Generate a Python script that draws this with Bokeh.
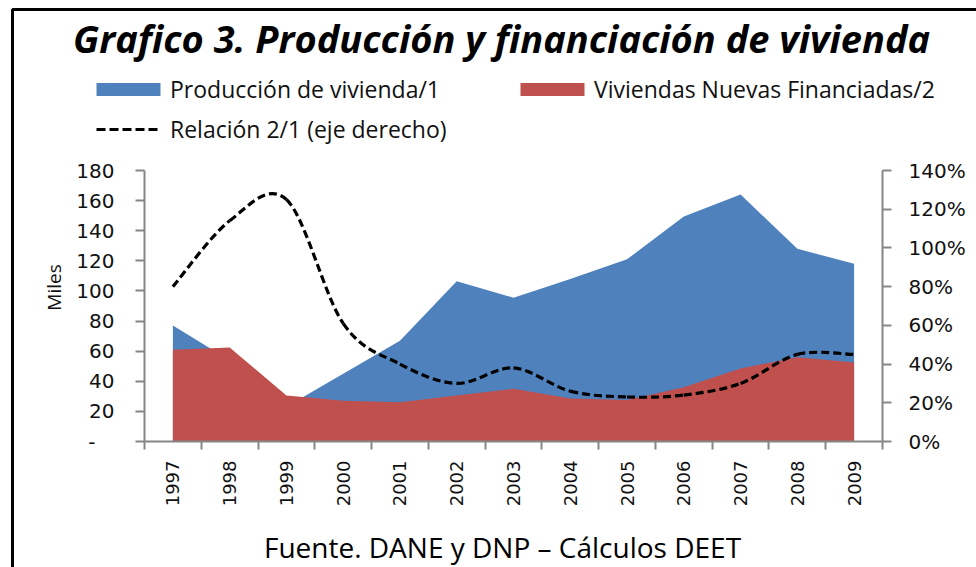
import numpy as np
from bokeh.plotting import figure
from bokeh.models import (Range1d, LinearAxis, FixedTicker, Label, Legend, LegendItem,
                          PrintfTickFormatter, BoxAnnotation)
from bokeh.embed import file_html
from bokeh.resources import INLINE

# ---------------- data ----------------
years = [1997, 1998, 1999, 2000, 2001, 2002, 2003, 2004, 2005, 2006, 2007, 2008, 2009]
produccion = [77, 54, 23, 45, 67, 106.5, 95.5, 108, 121, 149.5, 164, 128, 118]      # miles
financiadas = [61, 62.5, 30.5, 27, 26, 30.5, 35, 28.5, 27.5, 36, 48.5, 56, 52.5]    # miles
relacion = [80, 114, 125, 61, 40, 30, 38, 26, 23, 24, 30, 45, 45]                   # % (eje derecho)
left_ticks = [0, 20, 40, 60, 80, 100, 120, 140, 160, 180]
right_ticks = [0, 20, 40, 60, 80, 100, 120, 140]
title_text = "Grafico 3. Producción y financiación de vivienda"
footer_text = "Fuente. DANE y DNP \u2013 Cálculos DEET"
label_prod = "Producción de vivienda/1"
label_fin = "Viviendas Nuevas Financiadas/2"
label_rel = "Relación 2/1 (eje derecho)"
y_axis_title = "Miles"

BLUE = "#4F81BD"
RED = "#C0504D"
GRAY = "#868686"
TXT = "#111111"

# ---------------- layout (pixels) ----------------
W, H = 976, 567
PX_LEFT, PX_RIGHT = 144, 882      # plot area left/right
PX_BOTTOM, PX_TOP = 441, 170      # plot area bottom/top
X_LO, X_HI = years[0] - 0.5, years[-1] + 0.5
Y_MAX = left_ticks[-1]
P_MAX = right_ticks[-1]

xu = (X_HI - X_LO) / (PX_RIGHT - PX_LEFT)
yu = Y_MAX / (PX_BOTTOM - PX_TOP)
pu = P_MAX / (PX_BOTTOM - PX_TOP)


def px_x(px):
    return X_LO + (px - PX_LEFT) * xu


def px_y(py):
    return (PX_BOTTOM - py) * yu


p = figure(width=W, height=H, output_backend="svg", toolbar_location=None,
           x_range=Range1d(px_x(0), px_x(W)),
           y_range=Range1d(px_y(H), px_y(0)),
           min_border_left=0, min_border_right=0, min_border_top=0, min_border_bottom=0)
p.extra_y_ranges = {"pct": Range1d((PX_BOTTOM - H) * pu, PX_BOTTOM * pu)}
p.outline_line_color = None
p.xgrid.visible = False
p.ygrid.visible = False
p.background_fill_color = "white"
p.border_fill_color = "white"

# areas
r_blue = p.varea(x=years, y1=0, y2=produccion, fill_color=BLUE)
r_red = p.varea(x=years, y1=0, y2=financiadas, fill_color=RED)

# smoothed ratio line (Catmull-Rom -> Bezier control points)
xs = np.array(years, dtype=float)
ys = np.array(relacion, dtype=float)
n = len(xs)
x0, y0, x1, y1, cx0, cy0, cx1, cy1 = [], [], [], [], [], [], [], []
for i in range(n - 1):
    im1 = max(i - 1, 0)
    ip2 = min(i + 2, n - 1)
    x0.append(xs[i]); y0.append(ys[i]); x1.append(xs[i + 1]); y1.append(ys[i + 1])
    cx0.append(xs[i] + (xs[i + 1] - xs[im1]) / 6.0)
    cy0.append(ys[i] + (ys[i + 1] - ys[im1]) / 6.0)
    cx1.append(xs[i + 1] - (xs[ip2] - xs[i]) / 6.0)
    cy1.append(ys[i + 1] - (ys[ip2] - ys[i]) / 6.0)
p.bezier(x0=x0, y0=y0, x1=x1, y1=y1, cx0=cx0, cy0=cy0, cx1=cx1, cy1=cy1,
         line_color="black", line_width=3.2, line_dash="8 4", y_range_name="pct")
# one-point line: invisible in the plot, used for the legend swatch
r_line_leg = p.line(x=years[:1], y=relacion[:1], line_color="black", line_width=3,
                    line_dash="9 4", y_range_name="pct")

# x axis: labels at category centres, ticks at category boundaries
xa = p.xaxis[0]
xa.fixed_location = 0
xa.bounds = (X_LO, X_HI)
xa.ticker = FixedTicker(ticks=years, minor_ticks=[y - 0.5 for y in years] + [years[-1] + 0.5])
xa.major_tick_out = 0
xa.major_tick_in = 0
xa.minor_tick_out = 8
xa.minor_tick_in = 0
xa.minor_tick_line_color = GRAY
xa.minor_tick_line_width = 2
xa.axis_line_color = GRAY
xa.axis_line_width = 2
xa.major_label_orientation = np.pi / 2
xa.major_label_standoff = 11
xa.major_label_text_font = "DejaVu Sans"
xa.major_label_text_font_size = "18px"
xa.major_label_text_color = TXT

# left axis
ya = p.yaxis[0]
ya.fixed_location = X_LO
ya.bounds = (0, Y_MAX)
ya.ticker = FixedTicker(ticks=left_ticks, minor_ticks=[])
ya.major_label_overrides = {0: "-\u00a0\u00a0\u00a0"}
ya.major_tick_out = 9
ya.major_tick_in = 0
ya.major_tick_line_color = GRAY
ya.major_tick_line_width = 2
ya.axis_line_color = GRAY
ya.axis_line_width = 2
ya.major_label_standoff = 21
ya.major_label_text_font = "DejaVu Sans"
ya.major_label_text_font_size = "20px"
ya.major_label_text_color = TXT

# right axis
ra = LinearAxis(y_range_name="pct", ticker=FixedTicker(ticks=right_ticks, minor_ticks=[]),
                formatter=PrintfTickFormatter(format="%d%%"))
ra.fixed_location = X_HI
ra.bounds = (0, P_MAX)
ra.major_tick_out = 9
ra.major_tick_in = 0
ra.major_tick_line_color = GRAY
ra.major_tick_line_width = 2
ra.axis_line_color = GRAY
ra.axis_line_width = 2
ra.major_label_standoff = 17
ra.major_label_text_font = "DejaVu Sans"
ra.major_label_text_font_size = "20px"
ra.major_label_text_color = TXT
p.add_layout(ra, "right")

# y axis title
p.add_layout(Label(x=53, y=H - 287, x_units="screen", y_units="screen", text=y_axis_title,
                   angle=np.pi / 2, text_align="center", text_baseline="middle",
                   text_font="Open Sans", text_font_size="19px", text_color=TXT))

# legends (location = bottom-left corner, pixels from plot bottom-left)
def make_legend(item, x, y_center, gw, gh, standoff):
    lg = Legend(items=[item], location=(x, H - y_center - 15))
    lg.glyph_width = gw
    lg.glyph_height = gh
    lg.label_height = 30
    lg.spacing = 0
    lg.padding = 0
    lg.margin = 0
    lg.label_standoff = standoff
    lg.border_line_color = None
    lg.background_fill_alpha = 0
    lg.label_text_font = "Open Sans"
    lg.label_text_font_size = "23px"
    lg.label_text_color = TXT
    lg.label_text_baseline = "middle"
    p.add_layout(lg, "center")


make_legend(LegendItem(label=label_prod, renderers=[r_blue]), 88, 90, 80, 16, 2)
make_legend(LegendItem(label=label_fin, renderers=[r_red]), 512, 90, 80, 16, 2)
make_legend(LegendItem(label=label_rel, renderers=[r_line_leg]), 96, 130, 64, 16, 10)

# title and footer
p.add_layout(Label(x=501, y=H - 37, x_units="screen", y_units="screen", text=title_text,
                   text_align="center", text_baseline="middle", text_font="Open Sans",
                   text_font_style="bold italic", text_font_size="38px", text_color="black"))
p.add_layout(Label(x=502, y=H - 546, x_units="screen", y_units="screen", text=footer_text,
                   text_align="center", text_baseline="middle", text_font="Open Sans",
                   text_font_size="28px", text_color="black"))

# outer frame (right and bottom edges fall outside the picture)
p.add_layout(BoxAnnotation(left=px_x(12), right=px_x(W + 50), top=px_y(9), bottom=px_y(H + 50),
                           fill_alpha=0, fill_color=None, line_color="black", line_alpha=1.0,
                           line_width=3))

open("out.html", "w").write(file_html(p, INLINE))
